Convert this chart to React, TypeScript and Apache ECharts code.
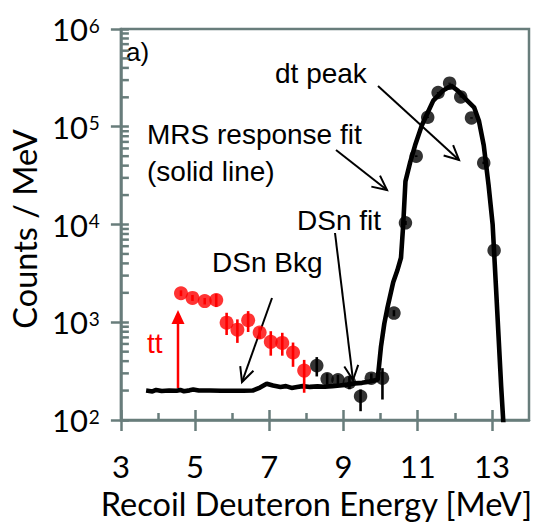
import React, { useEffect, useRef } from "react";
import * as echarts from "echarts";

// ---------- data ----------
const fitEnergy = [3.68, 3.85, 3.95, 4.1, 4.3, 4.5, 4.6, 4.7, 4.85, 4.95, 5.1, 5.4, 5.7, 6.0, 6.3, 6.55, 6.75, 6.93, 7.1, 7.3, 7.45, 7.6, 7.75, 7.9, 8.1, 8.3, 8.5, 8.7, 8.9, 9.1, 9.3, 9.5, 9.7, 9.92, 10.01, 10.1, 10.18, 10.34, 10.45, 10.55, 10.61, 10.67, 10.8, 10.93, 11.11, 11.29, 11.42, 11.68, 11.9, 12.08, 12.3, 12.52, 12.65, 12.78, 12.91, 13.02, 13.11, 13.18, 13.25, 13.32];
const fitCounts = [200, 196, 203, 198, 200, 199, 203, 197, 201, 205, 200, 200, 199, 199, 199, 200, 215, 235, 225, 218, 222, 213, 218, 222, 218, 221, 219, 222, 225, 230, 237, 240, 247, 258, 562, 968, 1380, 2570, 3380, 4570, 10000, 27600, 43700, 64600, 103000, 145000, 185000, 234000, 263000, 234000, 191000, 158000, 115000, 64600, 25300, 10000, 2290, 710, 220, 80];

const ttEnergy = [4.62, 4.93, 5.26, 5.57, 5.85, 6.14, 6.43, 6.74, 7.04, 7.35, 7.64, 7.94];
const ttCounts = [1980, 1775, 1645, 1690, 990, 840, 1050, 785, 630, 615, 490, 320];
const ttLow = [1850, 1650, 1520, 1430, 740, 615, 795, 680, 455, 455, 350, 190];
const ttHigh = [2120, 1900, 1770, 1950, 1250, 1070, 1300, 890, 810, 780, 620, 412];

const dtEnergy = [8.28, 8.56, 8.85, 9.16, 9.46, 9.75, 10.05, 10.36, 10.67, 10.96, 11.27, 11.55, 11.86, 12.16, 12.45, 12.78, 13.06];
const dtCounts = [360, 264, 258, 243, 175, 268, 268, 1240, 10400, 50000, 125000, 224000, 279000, 202000, 123000, 42700, 5430];
const dtLow = [279, 230, 230, 206, 123, 240, 162, 1150, 9900, 49000, 123000, 221000, 276000, 199000, 121000, 41500, 5150];
const dtHigh = [440, 300, 290, 280, 205, 300, 339, 1330, 10900, 51000, 127000, 227000, 282000, 205000, 125000, 44000, 5700];

const xMajorTicks = [3, 5, 7, 9, 11, 13];
const xMinorTicks = [4, 6, 8, 10, 12];
const yMinorTicks = [200, 300, 400, 500, 600, 700, 800, 900, 2000, 3000, 4000, 5000, 6000, 7000, 8000, 9000, 20000, 30000, 40000, 50000, 60000, 70000, 80000, 90000, 200000, 300000, 400000, 500000, 600000, 700000, 800000, 900000];

const AXIS = "#687d7b";
const LABEL_FONT = "Lato";
const NOTE_FONT = "Liberation Sans";

function arrow(x1: number, y1: number, x2: number, y2: number, color = "#000") {
  const ang = Math.atan2(y2 - y1, x2 - x1);
  const len = 16;
  const spread = (26 * Math.PI) / 180;
  const a1 = ang + Math.PI - spread;
  const a2 = ang + Math.PI + spread;
  return [
    { type: "line", shape: { x1, y1, x2, y2 }, style: { stroke: color, lineWidth: 2 }, silent: true },
    {
      type: "polyline",
      shape: {
        points: [
          [x2 + len * Math.cos(a1), y2 + len * Math.sin(a1)],
          [x2, y2],
          [x2 + len * Math.cos(a2), y2 + len * Math.sin(a2)],
        ],
      },
      style: { stroke: color, lineWidth: 2, fill: null },
      silent: true,
    },
  ];
}

function note(text: string, x: number, y: number, color = "#000", size = 28) {
  return {
    type: "text",
    x,
    y,
    style: { text, fill: color, font: `${size}px "${NOTE_FONT}"`, verticalAlign: "middle", align: "left" },
    silent: true,
  };
}

function errorBars(energy: number[], low: number[], high: number[], color: string) {
  return {
    type: "custom",
    data: energy.map((e, i) => [e, low[i], high[i]]),
    encode: { x: 0, y: [1, 2] },
    renderItem: (_p: any, api: any) => {
      const a = api.coord([api.value(0), api.value(1)]);
      const b = api.coord([api.value(0), api.value(2)]);
      return { type: "line", shape: { x1: a[0], y1: a[1], x2: b[0], y2: b[1] }, style: { stroke: color, lineWidth: 2.6 } };
    },
    z: 3,
    silent: true,
  };
}

export default function App() {
  const ref = useRef<HTMLDivElement>(null);
  useEffect(() => {
    document.body.style.margin = "0";
    if (!ref.current) return;
    const chart = echarts.init(ref.current, null, { renderer: "svg" });
    chart.setOption({
      animation: false,
      backgroundColor: "#fff",
      grid: { left: 111, right: 4, top: 29, bottom: 101, show: true, borderColor: AXIS, borderWidth: 2.5, containLabel: false },
      xAxis: [
        {
          type: "value",
          min: 3,
          max: 14,
          name: "Recoil Deuteron Energy [MeV]",
          nameLocation: "middle",
          nameGap: 67,
          nameTextStyle: { fontFamily: LABEL_FONT, fontSize: 32.5, color: "#000", padding: [0, 17, 0, 0] },
          axisLine: { lineStyle: { color: AXIS, width: 2.5 } },
          axisTick: { inside: true, length: 10, customValues: xMajorTicks, lineStyle: { color: AXIS, width: 2.5 } },
          axisLabel: { customValues: xMajorTicks, margin: 30, fontFamily: LABEL_FONT, fontSize: 31, color: "#000" },
          splitLine: { show: false },
        },
        {
          type: "value",
          min: 3,
          max: 14,
          axisLine: { show: false },
          axisTick: { inside: false, length: 11, customValues: xMajorTicks, lineStyle: { color: AXIS, width: 2.5 } },
          axisLabel: { show: false },
          splitLine: { show: false },
          position: "bottom",
        },
        {
          type: "value",
          min: 3,
          max: 14,
          axisLine: { show: false },
          axisTick: { inside: true, length: 7, customValues: xMinorTicks, lineStyle: { color: AXIS, width: 2.5 } },
          axisLabel: { show: false },
          splitLine: { show: false },
          position: "bottom",
        },
      ],
      yAxis: [
        {
          type: "log",
          logBase: 10,
          min: 100,
          max: 1000000,
          name: "Counts / MeV",
          nameLocation: "middle",
          nameGap: 68,
          nameTextStyle: { fontFamily: LABEL_FONT, fontSize: 32.5, color: "#000", padding: [0, 9, 0, 0] },
          axisLine: { lineStyle: { color: AXIS, width: 2.5 } },
          axisTick: { inside: false, length: 10, lineStyle: { color: AXIS, width: 2.5 } },
          axisLabel: {
            margin: 21,
            formatter: (v: number) => `{b|10}{s|${Math.round(Math.log10(v))}}`,
            rich: {
              b: { fontFamily: LABEL_FONT, fontSize: 31, color: "#000", lineHeight: 31 },
              s: { fontFamily: LABEL_FONT, fontSize: 19, color: "#000", verticalAlign: "top", lineHeight: 19, padding: [2, 0, 0, 1] },
            },
          },
          splitLine: { show: false },
        },
        {
          type: "log",
          logBase: 10,
          min: 100,
          max: 1000000,
          axisLine: { show: false },
          axisTick: { inside: true, length: 8, lineStyle: { color: AXIS, width: 2.5 } },
          axisLabel: { show: false },
          splitLine: { show: false },
          position: "left",
        },
      ],
      series: [
        {
          type: "custom",
          name: "minor ticks",
          data: yMinorTicks.map((v) => [3, v]),
          encode: { x: 0, y: 1 },
          renderItem: (_p: any, api: any) => {
            const p = api.coord([api.value(0), api.value(1)]);
            return { type: "line", shape: { x1: p[0], y1: p[1], x2: p[0] + 8, y2: p[1] }, style: { stroke: AXIS, lineWidth: 2.5 } };
          },
          silent: true,
          z: 1,
        },
        {
          type: "line",
          name: "MRS response fit",
          data: fitEnergy.map((e, i) => [e, fitCounts[i]]),
          showSymbol: false,
          lineStyle: { color: "#000", width: 4.6 },
          clip: true,
          z: 2,
          silent: true,
        },
        errorBars(ttEnergy, ttLow, ttHigh, "#ff0000"),
        {
          type: "scatter",
          name: "tt",
          data: ttEnergy.map((e, i) => [e, ttCounts[i]]),
          symbolSize: 14,
          itemStyle: { color: "#ff0000" },
          z: 4,
        },
        errorBars(dtEnergy, dtLow, dtHigh, "#000"),
        {
          type: "scatter",
          name: "dt",
          data: dtEnergy.map((e, i) => [e, dtCounts[i]]),
          symbolSize: 13.5,
          itemStyle: { color: "#000" },
          z: 4,
        },
      ],
      graphic: [
        note("a)", 126, 52, "#000", 26),
        note("dt peak", 275, 73),
        note("MRS response fit", 147, 134),
        note("(solid line)", 147, 171),
        note("DSn fit", 297, 220),
        note("DSn Bkg", 212, 262),
        note("tt", 147, 343, "#ff0000"),
        ...arrow(378, 86, 459, 160),
        ...arrow(336, 150, 387, 190),
        ...arrow(335, 233, 353, 380),
        ...arrow(272, 298, 242, 382),
        { type: "line", shape: { x1: 178, y1: 388, x2: 178, y2: 322 }, style: { stroke: "#ff0000", lineWidth: 2.5 }, silent: true },
        { type: "polygon", shape: { points: [[171.5, 324], [184.5, 324], [178, 310]] }, style: { fill: "#ff0000" }, silent: true },
      ],
    });
    return () => chart.dispose();
  }, []);
  return <div ref={ref} style={{ width: 533, height: 525 }} />;
}
